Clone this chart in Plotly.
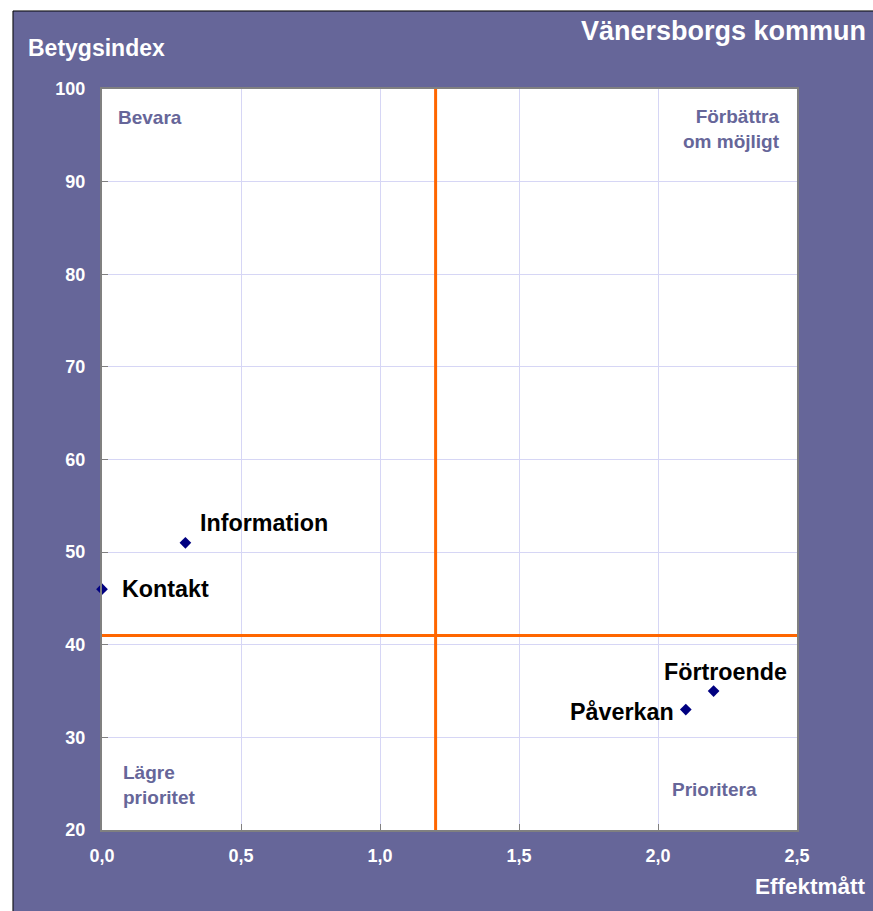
import plotly.graph_objects as go

# Data
names = ["Kontakt", "Information", "Förtroende", "Påverkan"]
effekt = [0.0, 0.3, 2.2, 2.1]
betyg = [46, 51, 35, 33]
x_threshold = 1.2
y_threshold = 41
x_ticks = [0.0, 0.5, 1.0, 1.5, 2.0, 2.5]
y_ticks = [20, 30, 40, 50, 60, 70, 80, 90, 100]

# label placement (pixel offsets relative to each point)
lab_xanchor = ["left", "left", "center", "right"]
lab_xshift = [18, 13, 12, -10]
lab_yshift = [0, 20, 19, -2]

PURPLE = "#666699"
FONT = "Liberation Sans, Arial, sans-serif"

fig = go.Figure()
fig.add_trace(go.Scatter(
    x=effekt, y=betyg, mode="markers",
    marker=dict(symbol="diamond", size=9, color="#000080"),
    hoverinfo="text", text=names, showlegend=False, cliponaxis=False,
))

shapes = [
    dict(type="rect", xref="paper", yref="paper", x0=-0.1281, x1=1.3, y0=-0.3, y1=1.1053,
         fillcolor=PURPLE, line=dict(color="black", width=1), layer="below"),
    dict(type="rect", xref="paper", yref="paper", x0=0, x1=1, y0=0, y1=1,
         fillcolor="white", line=dict(width=0), layer="below"),
    dict(type="line", xref="x", yref="paper", x0=x_threshold, x1=x_threshold, y0=0, y1=1,
         line=dict(color="#ff6600", width=3)),
    dict(type="line", xref="paper", yref="y", x0=0, x1=1, y0=y_threshold, y1=y_threshold,
         line=dict(color="#ff6600", width=3)),
]

annotations = []
for n, xv, yv, xa, xs, ys in zip(names, effekt, betyg, lab_xanchor, lab_xshift, lab_yshift):
    annotations.append(dict(x=xv, y=yv, xref="x", yref="y", text=n, showarrow=False,
                            xanchor=xa, yanchor="middle", xshift=xs, yshift=ys,
                            font=dict(family=FONT, size=23.3, color="black", weight="bold")))

qfont = dict(family=FONT, size=19, color=PURPLE, weight="bold")
annotations += [
    dict(x=0.0195, y=0.9622, xref="paper", yref="paper", text="Bevara", showarrow=False,
         xanchor="left", yanchor="middle", font=qfont),
    dict(x=0.9785, y=0.9454, xref="paper", yref="paper", text="Förbättra<br>om möjligt",
         showarrow=False, xanchor="right", yanchor="middle", align="right", font=qfont),
    dict(x=0.0275, y=0.0614, xref="paper", yref="paper", text="Lägre<br>prioritet",
         showarrow=False, xanchor="left", yanchor="middle", align="left", font=qfont),
    dict(x=0.8806, y=0.0553, xref="paper", yref="paper", text="Prioritera", showarrow=False,
         xanchor="center", yanchor="middle", font=qfont),
    dict(x=-0.1094, y=1.0553, xref="paper", yref="paper", text="Betygsindex", showarrow=False,
         xanchor="left", yanchor="middle",
         font=dict(family=FONT, size=23, color="white", weight="bold")),
    dict(x=1.1022, y=1.0783, xref="paper", yref="paper", text="Vänersborgs kommun",
         showarrow=False, xanchor="right", yanchor="middle",
         font=dict(family=FONT, size=27, color="white", weight="bold")),
    dict(x=1.1022, y=-0.0756, xref="paper", yref="paper", text="Effektmått", showarrow=False,
         xanchor="right", yanchor="middle",
         font=dict(family=FONT, size=22.5, color="white", weight="bold")),
]

tickfont = dict(family=FONT, size=18, color="white", weight="bold")
fig.update_layout(
    width=873, height=911,
    margin=dict(l=102, r=76, t=89, b=81, pad=0),
    paper_bgcolor="white", plot_bgcolor="rgba(0,0,0,0)",
    separators=", ",
    shapes=shapes, annotations=annotations,
    xaxis=dict(range=[0, 2.5], tickvals=x_ticks, tickformat=".1f", showgrid=True,
               gridcolor="#d6d6f5", gridwidth=1, zeroline=False, showline=True, mirror=True,
               linecolor="#808080", linewidth=2, ticks="inside", ticklen=6, tickcolor="#808080",
               tickfont=tickfont, ticklabelstandoff=8, fixedrange=True),
    yaxis=dict(range=[20, 100], tickvals=y_ticks, showgrid=True,
               gridcolor="#d6d6f5", gridwidth=1, zeroline=False, showline=True, mirror=True,
               linecolor="#808080", linewidth=2, ticks="inside", ticklen=6, tickcolor="#808080",
               tickfont=tickfont, ticklabelstandoff=11, fixedrange=True),
)

fig.write_html(
    "out.html",
    config={"displayModeBar": False},
    post_script="document.body.style.margin='0';document.body.style.overflow='hidden';",
)
